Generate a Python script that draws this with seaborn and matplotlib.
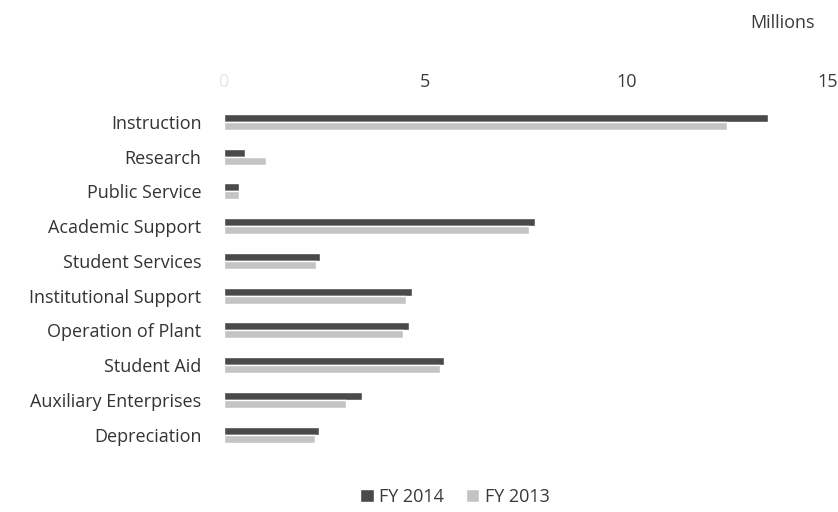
import matplotlib.pyplot as plt
import numpy as np
import pandas as pd
import seaborn as sns

# expenses by function, millions
categories = ['Instruction', 'Research', 'Public Service', 'Academic Support',
              'Student Services', 'Institutional Support', 'Operation of Plant',
              'Student Aid', 'Auxiliary Enterprises', 'Depreciation']
fy2014 = [13.5, 0.52, 0.38, 7.72, 2.38, 4.68, 4.6, 5.47, 3.42, 2.36]
fy2013 = [12.5, 1.05, 0.38, 7.58, 2.3, 4.53, 4.46, 5.36, 3.03, 2.26]
years = ['FY 2014', 'FY 2013']
x_ticks = [0, 5, 10, 15]

df = pd.DataFrame({'Category': categories, 'FY 2014': fy2014, 'FY 2013': fy2013})
df = df.melt(id_vars='Category', value_vars=years, var_name='Year', value_name='Value')

sns.set_style('white')
plt.rcParams['font.family'] = ['Open Sans', 'DejaVu Sans']

fig = plt.figure(figsize=(8.38, 5.12), dpi=100)
ax = fig.add_axes([0.267, 0.117, 0.721, 0.679])

sns.barplot(data=df, y='Category', x='Value', hue='Year', hue_order=years,
            order=categories, orient='h', palette=['#4a4a4a', '#c4c4c4'],
            width=0.46, saturation=1, ax=ax, legend=True)

ax.set_xlim(0, 15)
ax.set_ylim(len(categories) - 0.5, -0.5)
ax.xaxis.tick_top()
ax.set_xticks(x_ticks)
ax.set_xticklabels([str(t) for t in x_ticks], fontsize=13, color='#3a3a3a')
ax.get_xticklabels()[0].set_color('#e6e6e6')
ax.tick_params(axis='x', length=0, pad=10)
ax.tick_params(axis='y', length=0, pad=16, labelsize=13, labelcolor='#333333')
ax.set_xlabel('')
ax.set_ylabel('')
for s in ax.spines.values():
    s.set_visible(False)

fig.text(0.972, 0.955, 'Millions', ha='right', va='center', fontsize=13, color='#3a3a3a')

handles, labels = ax.get_legend_handles_labels()
leg = ax.legend(handles, labels, loc='center', bbox_to_anchor=(0.543, 0.03),
                bbox_transform=fig.transFigure, ncol=2, frameon=False, fontsize=13,
                handlelength=0.75, handleheight=0.75, handletextpad=0.3, columnspacing=1.2)
for t in leg.get_texts():
    t.set_color('#3a3a3a')

fig.savefig('out.png', dpi=100)
